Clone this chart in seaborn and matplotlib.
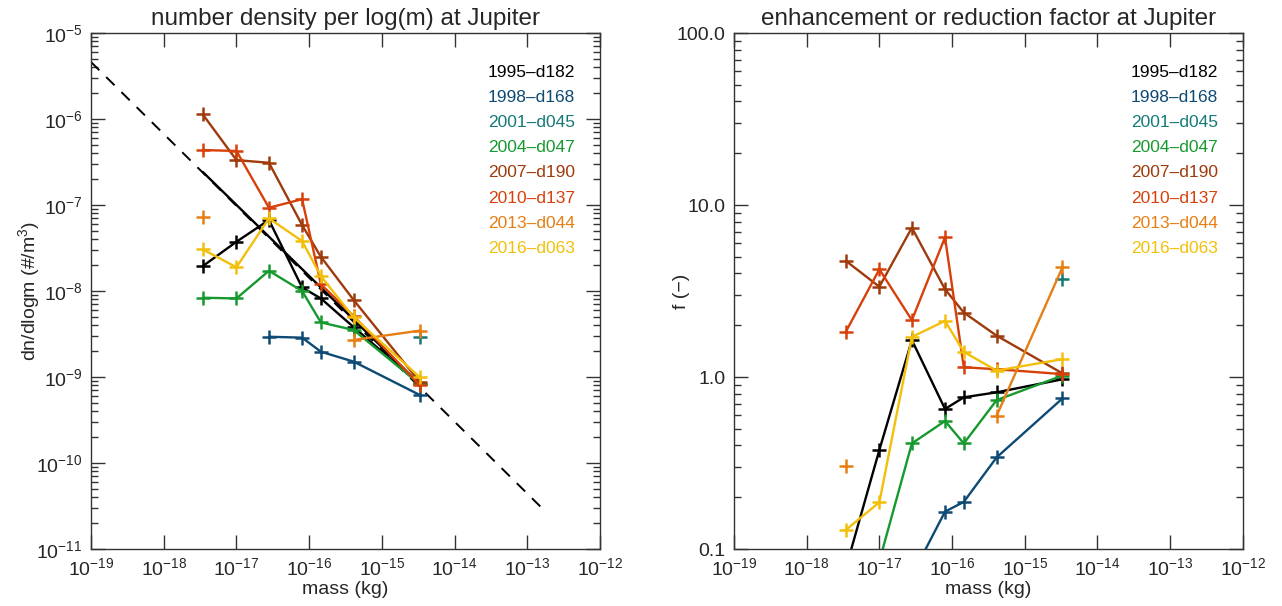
"""Jupiter dust number density and enhancement factor, redrawn with seaborn."""

import matplotlib

matplotlib.use('Agg')

import matplotlib.pyplot as plt
import matplotlib.ticker as mticker
import numpy as np
import pandas as pd
import seaborn as sns

nan = np.nan

# mass bins (kg)
mass = [3.45e-18, 1.0e-17, 2.8e-17, 8.0e-17, 1.45e-16, 4.1e-16, 3.3e-15]

labels = ['1995\u2013d182', '1998\u2013d168', '2001\u2013d045', '2004\u2013d047',
          '2007\u2013d190', '2010\u2013d137', '2013\u2013d044', '2016\u2013d063']
colors = ['#000000', '#0d4a74', '#137a78', '#16992f',
          '#9e3a0b', '#d8400a', '#e67e12', '#f2c00a']

# number density per log(m), #/m^3
dens_1995 = [1.95e-8, 3.74e-8, 6.7e-8, 1.1e-8, 8.2e-9, 3.8e-9, 8.3e-10]
dens_1998 = [nan, nan, 2.94e-9, 2.87e-9, 1.97e-9, 1.51e-9, 6.2e-10]
dens_2001 = [nan, nan, nan, nan, nan, nan, 2.9e-9]
dens_2004 = [8.36e-9, 8.2e-9, 1.72e-8, 1.0e-8, 4.32e-9, 3.52e-9, 8.3e-10]
dens_2007 = [1.13e-6, 3.33e-7, 3.1e-7, 5.85e-8, 2.5e-8, 7.85e-9, 8.8e-10]
dens_2010 = [4.36e-7, 4.25e-7, 9.3e-8, 1.17e-7, 1.2e-8, 5.1e-9, 8.1e-10]
dens_2013 = [7.3e-8, nan, nan, nan, nan, 2.7e-9, 3.46e-9]
dens_2016 = [3.05e-8, 1.89e-8, 7.0e-8, 3.81e-8, 1.49e-8, 4.94e-9, 1.0e-9]

# enhancement / reduction factor relative to the model
fac_1995 = [0.077, 0.377, 1.64, 0.652, 0.762, 0.815, 0.97]
fac_1998 = [nan, nan, 0.07, 0.165, 0.188, 0.341, 0.751]
fac_2001 = [nan, nan, nan, nan, nan, nan, 3.70]
fac_2004 = [0.035, 0.085, 0.411, 0.555, 0.411, 0.734, 1.02]
fac_2007 = [4.74, 3.35, 7.38, 3.24, 2.37, 1.74, 1.05]
fac_2010 = [1.83, 4.23, 2.14, 6.49, 1.14, 1.11, 1.04]
fac_2013 = [0.304, nan, nan, nan, nan, 0.596, 4.35]
fac_2016 = [0.129, 0.187, 1.71, 2.12, 1.40, 1.09, 1.27]

# reference model line (dashed over full range, solid over data range)
model_mass = [1.0e-19, 1.8e-13]
model_dens = [4.6e-6, 2.7e-11]
model_fit_mass = [3.45e-18, 3.3e-15]
model_fit_dens = [2.42e-7, 8.3e-10]

dens = [dens_1995, dens_1998, dens_2001, dens_2004,
        dens_2007, dens_2010, dens_2013, dens_2016]
fac = [fac_1995, fac_1998, fac_2001, fac_2004,
       fac_2007, fac_2010, fac_2013, fac_2016]


def long_table(series):
    rows = []
    for lab, vals in zip(labels, series):
        seg = 0
        for m, v in zip(mass, vals):
            if np.isnan(v):
                seg += 1
                continue
            rows.append({'label': lab, 'seg': f'{lab}-{seg}', 'mass': m, 'value': v})
    return pd.DataFrame(rows)


def style_axis(ax):
    ax.set_xscale('log')
    ax.set_yscale('log')
    ax.set_xlim(1e-19, 1e-12)
    ax.xaxis.set_major_locator(mticker.LogLocator(base=10, numticks=20))
    ax.xaxis.set_minor_locator(mticker.NullLocator())
    ax.tick_params(which='both', direction='in', top=True, right=True,
                   bottom=True, left=True, labelsize=14, color='#333333')
    ax.tick_params(which='major', length=10, width=1, pad=6)
    ax.tick_params(which='minor', length=5, width=1)
    for sp in ax.spines.values():
        sp.set_color('#333333')
        sp.set_linewidth(1)
    ax.grid(False)
    ax.set_xlabel('mass (kg)', fontsize=14, labelpad=1)


def draw(ax, series):
    df = long_table(series)
    n_before = len(ax.lines)
    sns.lineplot(data=df, x='mass', y='value', hue='label', units='seg',
                 estimator=None, sort=False, palette=dict(zip(labels, colors)),
                 hue_order=labels, marker='+', markersize=10, markeredgewidth=1.8,
                 linewidth=1.7, legend=False, ax=ax)
    for line in ax.lines[n_before:]:
        line.set_markeredgecolor(line.get_color())
    for i, (lab, col) in enumerate(zip(labels, colors)):
        ax.text(0.951, 0.924 - i * 0.0488, lab, color=col, fontsize=12.5,
                ha='right', va='center', transform=ax.transAxes)


def main():
    sns.set_theme(style='white')
    plt.rcParams['font.family'] = ['Liberation Sans', 'DejaVu Sans']
    plt.rcParams['mathtext.fontset'] = 'custom'
    plt.rcParams['mathtext.rm'] = 'Liberation Sans'
    plt.rcParams['mathtext.it'] = 'Liberation Sans:italic'
    plt.rcParams['mathtext.bf'] = 'Liberation Sans:bold'

    fig = plt.figure(figsize=(12.82, 6.06), dpi=100)
    ax1 = fig.add_axes([0.0710, 0.094, 0.397, 0.8515])
    ax2 = fig.add_axes([0.5725, 0.094, 0.397, 0.8515])

    # left: number density
    ax1.plot(model_mass, model_dens, color='black', lw=1.4, ls=(0, (6, 5)))
    ax1.plot(model_fit_mass, model_fit_dens, color='black', lw=1.7)
    draw(ax1, dens)
    style_axis(ax1)
    ax1.set_ylim(1e-11, 1e-5)
    ax1.yaxis.set_major_locator(mticker.LogLocator(base=10, numticks=20))
    ax1.yaxis.set_minor_locator(mticker.LogLocator(base=10, subs=np.arange(2, 10), numticks=20))
    ax1.yaxis.set_minor_formatter(mticker.NullFormatter())
    ax1.set_ylabel('dn/dlogm (#/m$^3$)', fontsize=14)
    ax1.yaxis.set_label_coords(-0.097, 0.5)
    ax1.set_title('number density per log(m) at Jupiter', fontsize=17.5, pad=6)

    # right: enhancement factor
    draw(ax2, fac)
    style_axis(ax2)
    ax2.set_ylim(0.1, 100)
    ax2.yaxis.set_major_locator(mticker.FixedLocator([0.1, 1, 10, 100]))
    ax2.yaxis.set_major_formatter(mticker.FixedFormatter(['0.1', '1.0', '10.0', '100.0']))
    ax2.yaxis.set_minor_locator(mticker.LogLocator(base=10, subs=np.arange(2, 10), numticks=20))
    ax2.yaxis.set_minor_formatter(mticker.NullFormatter())
    ax2.set_ylabel('f (\u2212)', fontsize=14)
    ax2.yaxis.set_label_coords(-0.087, 0.5)
    ax2.set_title('enhancement or reduction factor at Jupiter', fontsize=17.5, pad=6)

    fig.savefig('out.png', dpi=100)
    plt.close(fig)


if __name__ == '__main__':
    main()
